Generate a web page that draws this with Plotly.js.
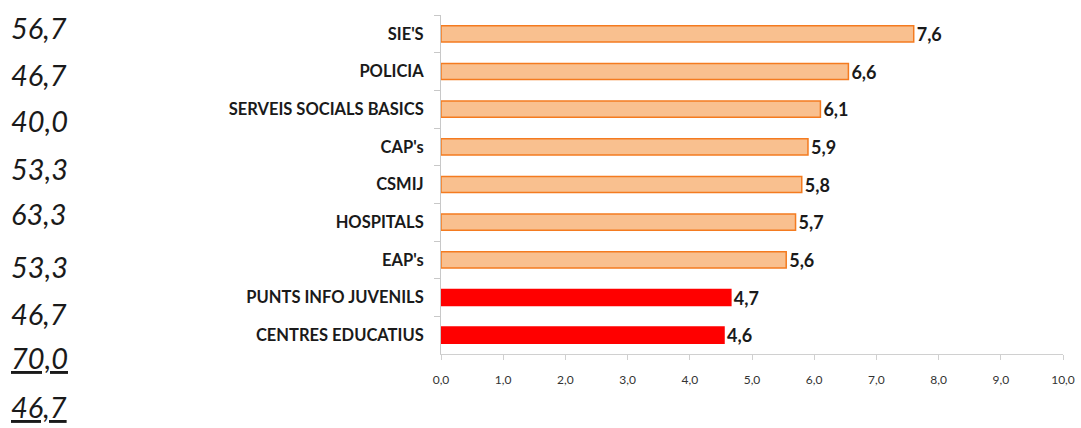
<!DOCTYPE html>
<html>
<head>
<meta charset="utf-8">
<script src="https://cdn.plot.ly/plotly-3.0.1.min.js"></script>
<style>html,body{margin:0;padding:0;background:#fff;}#chart{width:1081px;height:428px;}</style>
</head>
<body>
<div id="chart"></div>
<script>
// Data (top to bottom as displayed)
const categories = ["SIE'S", "POLICIA", "SERVEIS SOCIALS BASICS", "CAP's", "CSMIJ", "HOSPITALS", "EAP's", "PUNTS INFO JUVENILS", "CENTRES EDUCATIUS"];
const values = [7.6, 6.55, 6.1, 5.9, 5.8, 5.7, 5.55, 4.66, 4.55];
const valueLabels = ["7,6", "6,6", "6,1", "5,9", "5,8", "5,7", "5,6", "4,7", "4,6"];
const highlighted = [false, false, false, false, false, false, false, true, true];
const sideValues = ["56,7", "46,7", "40,0", "53,3", "63,3", "53,3", "46,7", "70,0", "46,7"];
const sideUnderlined = [false, false, false, false, false, false, false, true, true];
const sideY = [28, 74, 120, 168, 214, 266, 313, 357, 406]; // pixel positions of side labels
const xTicks = [0, 1, 2, 3, 4, 5, 6, 7, 8, 9, 10];

const W = 1081, H = 428;
const font = "Lato, 'Open Sans', sans-serif";

const trace = {
  type: 'bar',
  orientation: 'h',
  y: categories,
  x: values,
  marker: {
    color: highlighted.map(h => h ? '#FF0000' : '#F9C08F'),
    line: { color: highlighted.map(h => h ? '#FF0000' : '#F47B20'), width: 1.5 }
  },
  text: valueLabels,
  textposition: 'outside',
  constraintext: 'none',
  textfont: { family: font, size: 18, color: '#1a1a1a', weight: 700 },
  cliponaxis: false,
  hoverinfo: 'none'
};

const annotations = sideValues.map((s, i) => ({
  text: sideUnderlined[i] ? '<u>' + s + '</u>' : s,
  xref: 'paper', yref: 'paper',
  x: (9 - 441) / (W - 441 - 18), xanchor: 'left',
  y: 1 - (sideY[i] - 15) / (H - 15 - 74), yanchor: 'middle',
  showarrow: false,
  font: { family: font, size: 29, color: '#1a1a1a', style: 'italic' }
}));

const layout = {
  width: W, height: H,
  margin: { l: 441, r: 18, t: 15, b: 74, pad: 0 },
  paper_bgcolor: '#fff', plot_bgcolor: '#fff',
  separators: ',.',
  showlegend: false,
  bargap: 0.57,
  xaxis: {
    range: [0, 10],
    tickvals: xTicks,
    tickformat: '.1f',
    showgrid: false, zeroline: false,
    showline: true, linecolor: '#d0d0d0', linewidth: 1,
    ticks: 'outside', ticklen: 5, tickcolor: '#d0d0d0',
    tickfont: { family: font, size: 12, color: '#333' },
    ticklabelstandoff: 10,
    fixedrange: true
  },
  yaxis: {
    type: 'category',
    autorange: 'reversed',
    showgrid: false, zeroline: false,
    showline: true, linecolor: '#c8c8c8', linewidth: 1,
    ticks: 'outside', ticklen: 6, tickcolor: '#c8c8c8',
    tickson: 'boundaries',
    tickfont: { family: font, size: 16.5, color: '#1a1a1a', weight: 700 },
    ticklabelstandoff: 13,
    fixedrange: true
  },
  annotations: annotations
};

Plotly.newPlot('chart', [trace], layout, { displayModeBar: false, staticPlot: true });
</script>
</body>
</html>
